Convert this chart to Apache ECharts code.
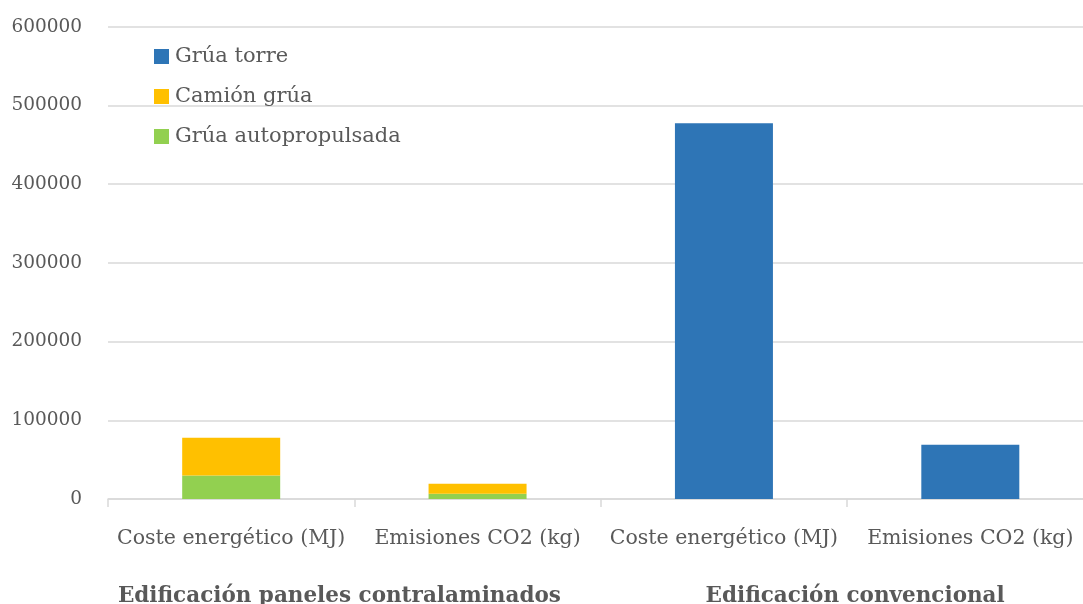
<!DOCTYPE html>
<html>
<head>
<meta charset="utf-8">
<script src="https://cdn.jsdelivr.net/npm/echarts@6/dist/echarts.min.js"></script>
<style>
  html, body { margin: 0; padding: 0; background: #fff; }
  #chart { width: 1083px; height: 604px; }
</style>
</head>
<body>
<div id="chart"></div>
<script>
// Categories (inner level) and building types (outer level)
const categories = ['Coste energético (MJ)', 'Emisiones CO2 (kg)', 'Coste energético (MJ)', 'Emisiones CO2 (kg)'];
const groups = ['Edificación paneles contralaminados', 'Edificación convencional'];

// Series values per category
const gruaAutopropulsada = [29800, 6800, null, null];
const camionGrua = [48100, 12700, null, null];
const gruaTorre = [null, null, 477500, 69000];

const yTicks = { min: 0, max: 600000, interval: 100000 };

const FONT = 'DejaVu Serif';
const TEXT = '#595959';

const chart = echarts.init(document.getElementById('chart'), null, { renderer: 'canvas' });

chart.setOption({
  animation: false,
  backgroundColor: '#ffffff',
  textStyle: { fontFamily: FONT, color: TEXT },
  legend: {
    data: ['Grúa torre', 'Camión grúa', 'Grúa autopropulsada'],
    orient: 'vertical',
    left: 149,
    top: 41,
    itemWidth: 15,
    itemHeight: 15,
    itemGap: 19,
    icon: 'rect',
    textStyle: { fontFamily: FONT, fontSize: 21, lineHeight: 20, color: TEXT, padding: [0, 0, 0, 1] }
  },
  // plot area runs past the right edge of the canvas
  grid: { left: 108, width: 985.5, top: 26.7, bottom: 105, outerBoundsMode: 'none', containLabel: false },
  xAxis: [
    {
      type: 'category',
      data: categories,
      axisLine: { lineStyle: { color: '#d9d9d9', width: 1.5 } },
      axisTick: { show: true, length: 8, lineStyle: { color: '#d9d9d9', width: 1.5 } },
      axisLabel: { fontFamily: FONT, fontSize: 20.5, color: TEXT, margin: 29, interval: 0 }
    },
    {
      type: 'category',
      position: 'bottom',
      offset: 66,
      data: groups,
      axisLine: { show: false },
      axisTick: { show: false },
      axisLabel: {
        fontFamily: FONT, fontSize: 21.5, fontWeight: 'bold', color: TEXT, margin: 20, interval: 0,
        formatter: (v, i) => (i === 0 ? '{g0|' + v + '}' : '{g1|' + v + '}'),
        rich: {
          g0: { fontFamily: FONT, fontSize: 21.5, fontWeight: 'bold', color: TEXT, padding: [0, 30, 0, 0] },
          g1: { fontFamily: FONT, fontSize: 21.5, fontWeight: 'bold', color: TEXT, padding: [0, 0, 0, 16] }
        }
      }
    }
  ],
  yAxis: {
    type: 'value',
    min: yTicks.min,
    max: yTicks.max,
    interval: yTicks.interval,
    axisLine: { show: false },
    axisTick: { show: false },
    splitLine: { lineStyle: { color: '#d9d9d9', width: 1.5 } },
    axisLabel: {
      fontFamily: FONT, fontSize: 18.5, color: TEXT, margin: 26,
      formatter: (v) => String(v)
    }
  },
  series: [
    {
      name: 'Grúa autopropulsada',
      type: 'bar',
      stack: 'total',
      barWidth: 98,
      itemStyle: { color: '#92D050' },
      data: gruaAutopropulsada
    },
    {
      name: 'Camión grúa',
      type: 'bar',
      stack: 'total',
      barWidth: 98,
      itemStyle: { color: '#FFC000' },
      data: camionGrua
    },
    {
      name: 'Grúa torre',
      type: 'bar',
      stack: 'total',
      barWidth: 98,
      itemStyle: { color: '#2E75B6' },
      data: gruaTorre
    }
  ]
});
</script>
</body>
</html>
